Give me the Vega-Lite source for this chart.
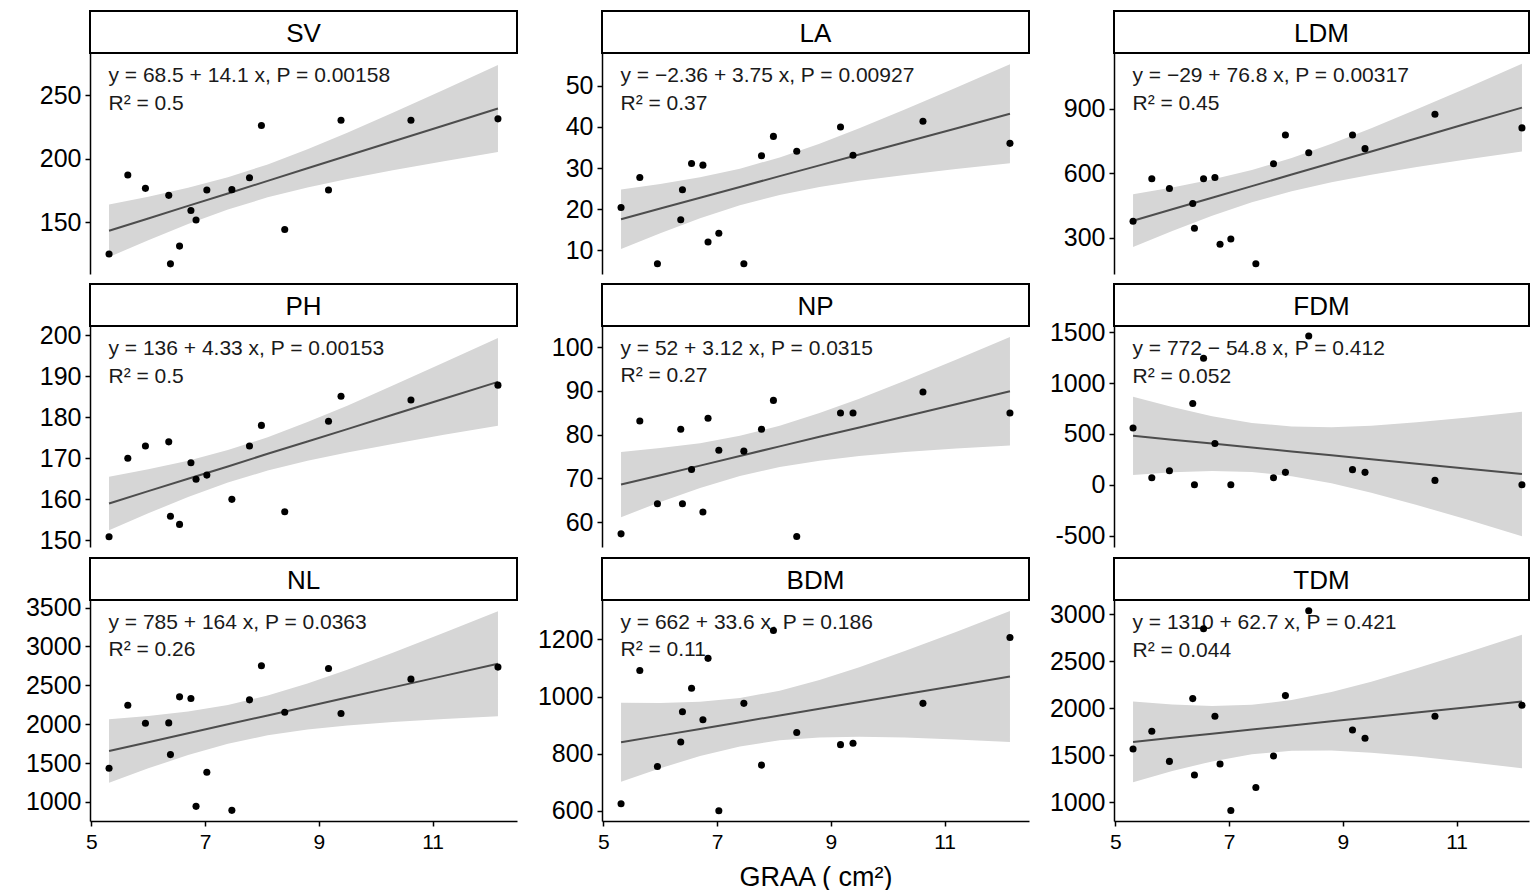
{
  "$schema": "https://vega.github.io/schema/vega-lite/v6.json",
  "background": "white",
  "padding": {"left": 25, "top": 10, "right": 0, "bottom": 0},
  "config": {
    "font": "Liberation Sans",
    "view": {"stroke": null},
    "axis": {"grid": false, "domainColor": "black", "domainWidth": 1.5, "tickColor": "black", "tickWidth": 1.5, "tickSize": 5, "labelColor": "black", "labelPadding": 4, "labelFlush": false, "labelFont": "Liberation Sans", "titleFont": "Liberation Sans"},
    "axisY": {"labelFontSize": 25},
    "axisX": {"labelFontSize": 21, "labelPadding": 5, "titleFontSize": 27, "titleFontWeight": "normal", "titleColor": "black", "titlePadding": 12},
    "area": {"color": "#d6d6d6", "opacity": 1},
    "line": {"color": "#4d4d4d", "strokeWidth": 2},
    "circle": {"size": 50, "color": "black", "opacity": 1}
  },
  "datasets": {
    "labels": [
      {"var": "SV", "label": "y = 68.5 + 14.1 x, P = 0.00158\nR² = 0.5"},
      {"var": "LA", "label": "y = −2.36 + 3.75 x, P = 0.00927\nR² = 0.37"},
      {"var": "LDM", "label": "y = −29 + 76.8 x, P = 0.00317\nR² = 0.45"},
      {"var": "PH", "label": "y = 136 + 4.33 x, P = 0.00153\nR² = 0.5"},
      {"var": "NP", "label": "y = 52 + 3.12 x, P = 0.0315\nR² = 0.27"},
      {"var": "FDM", "label": "y = 772 − 54.8 x, P = 0.412\nR² = 0.052"},
      {"var": "NL", "label": "y = 785 + 164 x, P = 0.0363\nR² = 0.26"},
      {"var": "BDM", "label": "y = 662 + 33.6 x, P = 0.186\nR² = 0.11"},
      {"var": "TDM", "label": "y = 1310 + 62.7 x, P = 0.421\nR² = 0.044"}
    ],
    "points": [
      {"var": "SV", "x": 5.31, "y": 125}, {"var": "SV", "x": 5.64, "y": 187.4}, {"var": "SV", "x": 5.95, "y": 176.8}, {"var": "SV", "x": 6.36, "y": 171.3}, {"var": "SV", "x": 6.39, "y": 117.3}, {"var": "SV", "x": 6.55, "y": 131.3}, {"var": "SV", "x": 6.75, "y": 159.4}, {"var": "SV", "x": 6.84, "y": 151.8}, {"var": "SV", "x": 7.03, "y": 175.5}, {"var": "SV", "x": 7.47, "y": 175.8}, {"var": "SV", "x": 7.78, "y": 185.2}, {"var": "SV", "x": 7.99, "y": 226.3}, {"var": "SV", "x": 8.4, "y": 144.4}, {"var": "SV", "x": 9.17, "y": 175.5}, {"var": "SV", "x": 9.39, "y": 230.5}, {"var": "SV", "x": 10.62, "y": 230.5}, {"var": "SV", "x": 12.15, "y": 231.6},
      {"var": "LA", "x": 5.31, "y": 20.4}, {"var": "LA", "x": 5.64, "y": 27.7}, {"var": "LA", "x": 5.95, "y": 6.7}, {"var": "LA", "x": 6.36, "y": 17.4}, {"var": "LA", "x": 6.39, "y": 24.7}, {"var": "LA", "x": 6.55, "y": 31.1}, {"var": "LA", "x": 6.75, "y": 30.7}, {"var": "LA", "x": 6.84, "y": 12.0}, {"var": "LA", "x": 7.03, "y": 14.1}, {"var": "LA", "x": 7.47, "y": 6.7}, {"var": "LA", "x": 7.78, "y": 33.0}, {"var": "LA", "x": 7.99, "y": 37.7}, {"var": "LA", "x": 8.4, "y": 34.1}, {"var": "LA", "x": 9.17, "y": 40.0}, {"var": "LA", "x": 9.39, "y": 33.1}, {"var": "LA", "x": 10.62, "y": 41.4}, {"var": "LA", "x": 12.15, "y": 36.0},
      {"var": "LDM", "x": 5.31, "y": 376}, {"var": "LDM", "x": 5.64, "y": 573.6}, {"var": "LDM", "x": 5.95, "y": 528.5}, {"var": "LDM", "x": 6.36, "y": 458.5}, {"var": "LDM", "x": 6.39, "y": 343.5}, {"var": "LDM", "x": 6.55, "y": 573.6}, {"var": "LDM", "x": 6.75, "y": 579.8}, {"var": "LDM", "x": 6.84, "y": 268.9}, {"var": "LDM", "x": 7.03, "y": 293.8}, {"var": "LDM", "x": 7.47, "y": 178.7}, {"var": "LDM", "x": 7.78, "y": 643.5}, {"var": "LDM", "x": 7.99, "y": 777.2}, {"var": "LDM", "x": 8.4, "y": 694.8}, {"var": "LDM", "x": 9.17, "y": 777.2}, {"var": "LDM", "x": 9.39, "y": 713.5}, {"var": "LDM", "x": 10.62, "y": 873.6}, {"var": "LDM", "x": 12.15, "y": 809.9},
      {"var": "PH", "x": 5.31, "y": 150.9}, {"var": "PH", "x": 5.64, "y": 170.0}, {"var": "PH", "x": 5.95, "y": 173.0}, {"var": "PH", "x": 6.36, "y": 174.0}, {"var": "PH", "x": 6.39, "y": 155.9}, {"var": "PH", "x": 6.55, "y": 153.9}, {"var": "PH", "x": 6.75, "y": 168.9}, {"var": "PH", "x": 6.84, "y": 164.9}, {"var": "PH", "x": 7.03, "y": 165.9}, {"var": "PH", "x": 7.47, "y": 160.0}, {"var": "PH", "x": 7.78, "y": 173.0}, {"var": "PH", "x": 7.99, "y": 178.0}, {"var": "PH", "x": 8.4, "y": 157.0}, {"var": "PH", "x": 9.17, "y": 179.0}, {"var": "PH", "x": 9.39, "y": 185.1}, {"var": "PH", "x": 10.62, "y": 184.2}, {"var": "PH", "x": 12.15, "y": 187.8},
      {"var": "NP", "x": 5.31, "y": 57.3}, {"var": "NP", "x": 5.64, "y": 83.1}, {"var": "NP", "x": 5.95, "y": 64.2}, {"var": "NP", "x": 6.36, "y": 81.2}, {"var": "NP", "x": 6.39, "y": 64.2}, {"var": "NP", "x": 6.55, "y": 72.0}, {"var": "NP", "x": 6.75, "y": 62.3}, {"var": "NP", "x": 6.84, "y": 83.7}, {"var": "NP", "x": 7.03, "y": 76.4}, {"var": "NP", "x": 7.47, "y": 76.2}, {"var": "NP", "x": 7.78, "y": 81.2}, {"var": "NP", "x": 7.99, "y": 87.8}, {"var": "NP", "x": 8.4, "y": 56.7}, {"var": "NP", "x": 9.17, "y": 84.9}, {"var": "NP", "x": 9.39, "y": 84.9}, {"var": "NP", "x": 10.62, "y": 89.7}, {"var": "NP", "x": 12.15, "y": 84.9},
      {"var": "FDM", "x": 5.31, "y": 557.8}, {"var": "FDM", "x": 5.64, "y": 69.3}, {"var": "FDM", "x": 5.95, "y": 138.6}, {"var": "FDM", "x": 6.36, "y": 798.7}, {"var": "FDM", "x": 6.39, "y": 0}, {"var": "FDM", "x": 6.55, "y": 1244}, {"var": "FDM", "x": 6.75, "y": 406}, {"var": "FDM", "x": 7.03, "y": 0}, {"var": "FDM", "x": 7.78, "y": 69.3}, {"var": "FDM", "x": 7.99, "y": 122.1}, {"var": "FDM", "x": 8.4, "y": 1462}, {"var": "FDM", "x": 9.17, "y": 148.5}, {"var": "FDM", "x": 9.39, "y": 122.1}, {"var": "FDM", "x": 10.62, "y": 42.9}, {"var": "FDM", "x": 12.15, "y": 0},
      {"var": "NL", "x": 5.31, "y": 1433}, {"var": "NL", "x": 5.64, "y": 2244.8}, {"var": "NL", "x": 5.95, "y": 2012.9}, {"var": "NL", "x": 6.36, "y": 2017.2}, {"var": "NL", "x": 6.39, "y": 1609}, {"var": "NL", "x": 6.55, "y": 2352.2}, {"var": "NL", "x": 6.75, "y": 2330.8}, {"var": "NL", "x": 6.84, "y": 943.3}, {"var": "NL", "x": 7.03, "y": 1381.4}, {"var": "NL", "x": 7.47, "y": 891.8}, {"var": "NL", "x": 7.78, "y": 2313.6}, {"var": "NL", "x": 7.99, "y": 2751.7}, {"var": "NL", "x": 8.4, "y": 2154.6}, {"var": "NL", "x": 9.17, "y": 2717.4}, {"var": "NL", "x": 9.39, "y": 2137.5}, {"var": "NL", "x": 10.62, "y": 2579.9}, {"var": "NL", "x": 12.15, "y": 2734.5},
      {"var": "BDM", "x": 5.31, "y": 625.5}, {"var": "BDM", "x": 5.64, "y": 1091.6}, {"var": "BDM", "x": 5.95, "y": 755.8}, {"var": "BDM", "x": 6.36, "y": 841.5}, {"var": "BDM", "x": 6.39, "y": 947.2}, {"var": "BDM", "x": 6.55, "y": 1029.4}, {"var": "BDM", "x": 6.75, "y": 919.0}, {"var": "BDM", "x": 6.84, "y": 1133.9}, {"var": "BDM", "x": 7.03, "y": 600.8}, {"var": "BDM", "x": 7.47, "y": 976.5}, {"var": "BDM", "x": 7.78, "y": 760.5}, {"var": "BDM", "x": 7.99, "y": 1231.3}, {"var": "BDM", "x": 8.4, "y": 874.4}, {"var": "BDM", "x": 9.17, "y": 832.1}, {"var": "BDM", "x": 9.39, "y": 836.8}, {"var": "BDM", "x": 10.62, "y": 976.5}, {"var": "BDM", "x": 12.15, "y": 1206.6},
      {"var": "TDM", "x": 5.31, "y": 1567.4}, {"var": "TDM", "x": 5.64, "y": 1755.3}, {"var": "TDM", "x": 5.95, "y": 1436.2}, {"var": "TDM", "x": 6.36, "y": 2102.8}, {"var": "TDM", "x": 6.39, "y": 1290.8}, {"var": "TDM", "x": 6.55, "y": 2844}, {"var": "TDM", "x": 6.75, "y": 1914.9}, {"var": "TDM", "x": 6.84, "y": 1407.8}, {"var": "TDM", "x": 7.03, "y": 914.9}, {"var": "TDM", "x": 7.47, "y": 1159.6}, {"var": "TDM", "x": 7.78, "y": 1492.9}, {"var": "TDM", "x": 7.99, "y": 2134.8}, {"var": "TDM", "x": 8.4, "y": 3035.5}, {"var": "TDM", "x": 9.17, "y": 1769.5}, {"var": "TDM", "x": 9.39, "y": 1680.9}, {"var": "TDM", "x": 10.62, "y": 1914.9}, {"var": "TDM", "x": 12.15, "y": 2031.9}
    ],
    "bands": [
      {"var": "SV", "x": 5.31, "lo": 122.7, "fit": 143.4, "hi": 164.1}, {"var": "SV", "x": 6.0, "lo": 136.0, "fit": 153.1, "hi": 170.2}, {"var": "SV", "x": 6.7, "lo": 148.8, "fit": 163.0, "hi": 177.2}, {"var": "SV", "x": 7.4, "lo": 160.1, "fit": 172.8, "hi": 185.5}, {"var": "SV", "x": 8.1, "lo": 169.7, "fit": 182.7, "hi": 195.7}, {"var": "SV", "x": 8.8, "lo": 177.5, "fit": 192.6, "hi": 207.6}, {"var": "SV", "x": 9.5, "lo": 184.2, "fit": 202.5, "hi": 220.7}, {"var": "SV", "x": 10.3, "lo": 191.1, "fit": 213.7, "hi": 236.4}, {"var": "SV", "x": 11.2, "lo": 198.2, "fit": 226.4, "hi": 254.6}, {"var": "SV", "x": 12.15, "lo": 205.5, "fit": 239.8, "hi": 274.1},
      {"var": "LA", "x": 5.31, "lo": 10.3, "fit": 17.55, "hi": 24.8}, {"var": "LA", "x": 6.0, "lo": 14.15, "fit": 20.14, "hi": 26.13}, {"var": "LA", "x": 6.7, "lo": 17.78, "fit": 22.77, "hi": 27.76}, {"var": "LA", "x": 7.4, "lo": 20.94, "fit": 25.39, "hi": 29.84}, {"var": "LA", "x": 8.1, "lo": 23.46, "fit": 28.02, "hi": 32.58}, {"var": "LA", "x": 8.8, "lo": 25.36, "fit": 30.64, "hi": 35.92}, {"var": "LA", "x": 9.5, "lo": 26.88, "fit": 33.27, "hi": 39.66}, {"var": "LA", "x": 10.3, "lo": 28.32, "fit": 36.27, "hi": 44.22}, {"var": "LA", "x": 11.2, "lo": 29.76, "fit": 39.64, "hi": 49.52}, {"var": "LA", "x": 12.15, "lo": 31.16, "fit": 43.2, "hi": 55.24},
      {"var": "LDM", "x": 5.31, "lo": 256.0, "fit": 378.8, "hi": 501.6}, {"var": "LDM", "x": 6.0, "lo": 330.5, "fit": 431.8, "hi": 533.1}, {"var": "LDM", "x": 6.7, "lo": 401.3, "fit": 485.6, "hi": 569.9}, {"var": "LDM", "x": 7.4, "lo": 464.0, "fit": 539.3, "hi": 614.6}, {"var": "LDM", "x": 8.1, "lo": 516.0, "fit": 593.1, "hi": 670.2}, {"var": "LDM", "x": 8.8, "lo": 557.6, "fit": 646.8, "hi": 736.0}, {"var": "LDM", "x": 9.5, "lo": 592.5, "fit": 700.6, "hi": 808.7}, {"var": "LDM", "x": 10.3, "lo": 627.7, "fit": 762.0, "hi": 896.4}, {"var": "LDM", "x": 11.2, "lo": 664.1, "fit": 831.2, "hi": 998.2}, {"var": "LDM", "x": 12.15, "lo": 700.6, "fit": 904.1, "hi": 1107.6},
      {"var": "PH", "x": 5.31, "lo": 152.5, "fit": 159.0, "hi": 165.5}, {"var": "PH", "x": 6.0, "lo": 156.6, "fit": 162.0, "hi": 167.3}, {"var": "PH", "x": 6.7, "lo": 160.6, "fit": 165.0, "hi": 169.4}, {"var": "PH", "x": 7.4, "lo": 164.1, "fit": 168.0, "hi": 172.0}, {"var": "PH", "x": 8.1, "lo": 167.0, "fit": 171.1, "hi": 175.1}, {"var": "PH", "x": 8.8, "lo": 169.4, "fit": 174.1, "hi": 178.8}, {"var": "PH", "x": 9.5, "lo": 171.4, "fit": 177.1, "hi": 182.8}, {"var": "PH", "x": 10.3, "lo": 173.5, "fit": 180.6, "hi": 187.7}, {"var": "PH", "x": 11.2, "lo": 175.7, "fit": 184.5, "hi": 193.3}, {"var": "PH", "x": 12.15, "lo": 177.9, "fit": 188.6, "hi": 199.3},
      {"var": "NP", "x": 5.31, "lo": 61.1, "fit": 68.6, "hi": 76.0}, {"var": "NP", "x": 6.0, "lo": 64.6, "fit": 70.7, "hi": 76.9}, {"var": "NP", "x": 6.7, "lo": 67.8, "fit": 72.9, "hi": 78.0}, {"var": "NP", "x": 7.4, "lo": 70.5, "fit": 75.1, "hi": 79.7}, {"var": "NP", "x": 8.1, "lo": 72.6, "fit": 77.3, "hi": 82.0}, {"var": "NP", "x": 8.8, "lo": 74.0, "fit": 79.5, "hi": 84.9}, {"var": "NP", "x": 9.5, "lo": 75.1, "fit": 81.6, "hi": 88.2}, {"var": "NP", "x": 10.3, "lo": 76.0, "fit": 84.1, "hi": 92.3}, {"var": "NP", "x": 11.2, "lo": 76.8, "fit": 86.9, "hi": 97.1}, {"var": "NP", "x": 12.15, "lo": 77.5, "fit": 89.9, "hi": 102.3},
      {"var": "FDM", "x": 5.31, "lo": 95.9, "fit": 481.0, "hi": 866.1}, {"var": "FDM", "x": 6.0, "lo": 122.1, "fit": 443.2, "hi": 764.3}, {"var": "FDM", "x": 6.7, "lo": 135.0, "fit": 404.8, "hi": 674.6}, {"var": "FDM", "x": 7.4, "lo": 125.2, "fit": 366.5, "hi": 607.8}, {"var": "FDM", "x": 8.1, "lo": 84.4, "fit": 328.1, "hi": 571.8}, {"var": "FDM", "x": 8.8, "lo": 13.7, "fit": 289.8, "hi": 565.9}, {"var": "FDM", "x": 9.5, "lo": -78.5, "fit": 251.4, "hi": 581.3}, {"var": "FDM", "x": 10.3, "lo": -198.9, "fit": 207.6, "hi": 614.1}, {"var": "FDM", "x": 11.2, "lo": -345.1, "fit": 158.2, "hi": 661.5}, {"var": "FDM", "x": 12.15, "lo": -505.7, "fit": 106.2, "hi": 718.1},
      {"var": "NL", "x": 5.31, "lo": 1247.7, "fit": 1655.8, "hi": 2064.0}, {"var": "NL", "x": 6.0, "lo": 1432.2, "fit": 1769.0, "hi": 2105.8}, {"var": "NL", "x": 6.7, "lo": 1603.6, "fit": 1883.8, "hi": 2164.0}, {"var": "NL", "x": 7.4, "lo": 1748.4, "fit": 1998.6, "hi": 2248.8}, {"var": "NL", "x": 8.1, "lo": 1857.0, "fit": 2113.4, "hi": 2369.8}, {"var": "NL", "x": 8.8, "lo": 1931.7, "fit": 2228.2, "hi": 2524.7}, {"var": "NL", "x": 9.5, "lo": 1983.7, "fit": 2343.0, "hi": 2702.3}, {"var": "NL", "x": 10.3, "lo": 2027.5, "fit": 2474.2, "hi": 2920.9}, {"var": "NL", "x": 11.2, "lo": 2066.4, "fit": 2621.8, "hi": 3177.2}, {"var": "NL", "x": 12.15, "lo": 2101.2, "fit": 2777.6, "hi": 3454.0},
      {"var": "BDM", "x": 5.31, "lo": 702.3, "fit": 840.4, "hi": 978.5}, {"var": "BDM", "x": 6.0, "lo": 749.6, "fit": 863.6, "hi": 977.6}, {"var": "BDM", "x": 6.7, "lo": 792.3, "fit": 887.1, "hi": 981.9}, {"var": "BDM", "x": 7.4, "lo": 826.0, "fit": 910.6, "hi": 995.3}, {"var": "BDM", "x": 8.1, "lo": 847.4, "fit": 934.2, "hi": 1020.9}, {"var": "BDM", "x": 8.8, "lo": 857.4, "fit": 957.7, "hi": 1058.0}, {"var": "BDM", "x": 9.5, "lo": 859.7, "fit": 981.2, "hi": 1102.8}, {"var": "BDM", "x": 10.3, "lo": 857.0, "fit": 1008.1, "hi": 1159.2}, {"var": "BDM", "x": 11.2, "lo": 850.5, "fit": 1038.3, "hi": 1226.2}, {"var": "BDM", "x": 12.15, "lo": 841.4, "fit": 1070.2, "hi": 1299.1},
      {"var": "TDM", "x": 5.31, "lo": 1214.8, "fit": 1642.9, "hi": 2071.0}, {"var": "TDM", "x": 6.0, "lo": 1332.8, "fit": 1686.2, "hi": 2039.6}, {"var": "TDM", "x": 6.7, "lo": 1436.1, "fit": 1730.1, "hi": 2024.1}, {"var": "TDM", "x": 7.4, "lo": 1511.5, "fit": 1774.0, "hi": 2036.5}, {"var": "TDM", "x": 8.1, "lo": 1548.9, "fit": 1817.9, "hi": 2086.9}, {"var": "TDM", "x": 8.8, "lo": 1550.8, "fit": 1861.8, "hi": 2172.8}, {"var": "TDM", "x": 9.5, "lo": 1528.7, "fit": 1905.7, "hi": 2282.6}, {"var": "TDM", "x": 10.3, "lo": 1487.2, "fit": 1955.8, "hi": 2424.4}, {"var": "TDM", "x": 11.2, "lo": 1429.6, "fit": 2012.2, "hi": 2594.9}, {"var": "TDM", "x": 12.15, "lo": 1362.2, "fit": 2071.8, "hi": 2781.4}
    ]
  },
  "vconcat": [
    {
      "concat": [
        {"width": 427, "height": 42, "data": {"name": "labels"}, "transform": [{"filter": "datum.var === 'SV'"}], "mark": {"type": "text", "fontSize": 26, "color": "black", "align": "center", "baseline": "middle", "dy": 2}, "encoding": {"text": {"field": "var", "type": "nominal"}}, "view": {"stroke": "black", "strokeWidth": 2, "fill": "white"}},
        {"width": 427, "height": 42, "data": {"name": "labels"}, "transform": [{"filter": "datum.var === 'LA'"}], "mark": {"type": "text", "fontSize": 26, "color": "black", "align": "center", "baseline": "middle", "dy": 2}, "encoding": {"text": {"field": "var", "type": "nominal"}}, "view": {"stroke": "black", "strokeWidth": 2, "fill": "white"}},
        {"width": 415, "height": 42, "data": {"name": "labels"}, "transform": [{"filter": "datum.var === 'LDM'"}], "mark": {"type": "text", "fontSize": 26, "color": "black", "align": "center", "baseline": "middle", "dy": 2}, "encoding": {"text": {"field": "var", "type": "nominal"}}, "view": {"stroke": "black", "strokeWidth": 2, "fill": "white"}},
        {"width": 427, "height": 221, "layer": [
          {"data": {"name": "bands"}, "transform": [{"filter": "datum.var === 'SV'"}], "mark": "area", "encoding": {"x": {"field": "x", "type": "quantitative", "scale": {"domain": [4.975, 12.485], "nice": false, "zero": false}, "axis": {"title": null, "domain": false, "labels": false, "tickOpacity": 0, "tickSize": 6, "values": [5]}}, "y": {"field": "lo", "type": "quantitative", "scale": {"domain": [109.3, 283.5], "nice": false, "zero": false}, "axis": {"title": null, "values": [150, 200, 250]}}, "y2": {"field": "hi"}}},
          {"data": {"name": "bands"}, "transform": [{"filter": "datum.var === 'SV'"}], "mark": "line", "encoding": {"x": {"field": "x", "type": "quantitative", "axis": {"title": null}}, "y": {"field": "fit", "type": "quantitative", "axis": {"title": null}}}},
          {"data": {"name": "labels"}, "transform": [{"filter": "datum.var === 'SV'"}], "mark": {"type": "text", "align": "left", "baseline": "alphabetic", "fontSize": 21, "lineHeight": 27.5, "lineBreak": "\n", "color": "#1a1a1a"}, "encoding": {"x": {"datum": 5.3, "type": "quantitative"}, "y": {"datum": 260.6, "type": "quantitative"}, "text": {"field": "label", "type": "nominal"}}},
          {"data": {"name": "points"}, "transform": [{"filter": "datum.var === 'SV'"}], "mark": "circle", "encoding": {"x": {"field": "x", "type": "quantitative", "axis": {"title": null}}, "y": {"field": "y", "type": "quantitative", "axis": {"title": null}}}}
        ]},
        {"width": 427, "height": 221, "layer": [
          {"data": {"name": "bands"}, "transform": [{"filter": "datum.var === 'LA'"}], "mark": "area", "encoding": {"x": {"field": "x", "type": "quantitative", "scale": {"domain": [4.975, 12.485], "nice": false, "zero": false}, "axis": {"title": null, "domain": false, "labels": false, "tickOpacity": 0, "tickSize": 6, "values": [5]}}, "y": {"field": "lo", "type": "quantitative", "scale": {"domain": [4.2, 58.0], "nice": false, "zero": false}, "axis": {"title": null, "values": [10, 20, 30, 40, 50]}}, "y2": {"field": "hi"}}},
          {"data": {"name": "bands"}, "transform": [{"filter": "datum.var === 'LA'"}], "mark": "line", "encoding": {"x": {"field": "x", "type": "quantitative", "axis": {"title": null}}, "y": {"field": "fit", "type": "quantitative", "axis": {"title": null}}}},
          {"data": {"name": "labels"}, "transform": [{"filter": "datum.var === 'LA'"}], "mark": {"type": "text", "align": "left", "baseline": "alphabetic", "fontSize": 21, "lineHeight": 27.5, "lineBreak": "\n", "color": "#1a1a1a"}, "encoding": {"x": {"datum": 5.3, "type": "quantitative"}, "y": {"datum": 50.9, "type": "quantitative"}, "text": {"field": "label", "type": "nominal"}}},
          {"data": {"name": "points"}, "transform": [{"filter": "datum.var === 'LA'"}], "mark": "circle", "encoding": {"x": {"field": "x", "type": "quantitative", "axis": {"title": null}}, "y": {"field": "y", "type": "quantitative", "axis": {"title": null}}}}
        ]},
        {"width": 415, "height": 221, "layer": [
          {"data": {"name": "bands"}, "transform": [{"filter": "datum.var === 'LDM'"}], "mark": "area", "encoding": {"x": {"field": "x", "type": "quantitative", "scale": {"domain": [4.975, 12.274], "nice": false, "zero": false}, "axis": {"title": null, "domain": false, "labels": false, "tickOpacity": 0, "tickSize": 6, "values": [5]}}, "y": {"field": "lo", "type": "quantitative", "scale": {"domain": [131, 1158], "nice": false, "zero": false}, "axis": {"title": null, "values": [300, 600, 900]}}, "y2": {"field": "hi"}}},
          {"data": {"name": "bands"}, "transform": [{"filter": "datum.var === 'LDM'"}], "mark": "line", "encoding": {"x": {"field": "x", "type": "quantitative", "axis": {"title": null}}, "y": {"field": "fit", "type": "quantitative", "axis": {"title": null}}}},
          {"data": {"name": "labels"}, "transform": [{"filter": "datum.var === 'LDM'"}], "mark": {"type": "text", "align": "left", "baseline": "alphabetic", "fontSize": 21, "lineHeight": 27.5, "lineBreak": "\n", "color": "#1a1a1a"}, "encoding": {"x": {"datum": 5.3, "type": "quantitative"}, "y": {"datum": 1023, "type": "quantitative"}, "text": {"field": "label", "type": "nominal"}}},
          {"data": {"name": "points"}, "transform": [{"filter": "datum.var === 'LDM'"}], "mark": "circle", "encoding": {"x": {"field": "x", "type": "quantitative", "axis": {"title": null}}, "y": {"field": "y", "type": "quantitative", "axis": {"title": null}}}}
        ]}
      ],
      "columns": 3, "bounds": "flush", "spacing": {"row": 0, "column": 85}
    },
    {
      "concat": [
        {"width": 427, "height": 42, "data": {"name": "labels"}, "transform": [{"filter": "datum.var === 'PH'"}], "mark": {"type": "text", "fontSize": 26, "color": "black", "align": "center", "baseline": "middle", "dy": 2}, "encoding": {"text": {"field": "var", "type": "nominal"}}, "view": {"stroke": "black", "strokeWidth": 2, "fill": "white"}},
        {"width": 427, "height": 42, "data": {"name": "labels"}, "transform": [{"filter": "datum.var === 'NP'"}], "mark": {"type": "text", "fontSize": 26, "color": "black", "align": "center", "baseline": "middle", "dy": 2}, "encoding": {"text": {"field": "var", "type": "nominal"}}, "view": {"stroke": "black", "strokeWidth": 2, "fill": "white"}},
        {"width": 415, "height": 42, "data": {"name": "labels"}, "transform": [{"filter": "datum.var === 'FDM'"}], "mark": {"type": "text", "fontSize": 26, "color": "black", "align": "center", "baseline": "middle", "dy": 2}, "encoding": {"text": {"field": "var", "type": "nominal"}}, "view": {"stroke": "black", "strokeWidth": 2, "fill": "white"}},
        {"width": 427, "height": 221, "layer": [
          {"data": {"name": "bands"}, "transform": [{"filter": "datum.var === 'PH'"}], "mark": "area", "encoding": {"x": {"field": "x", "type": "quantitative", "scale": {"domain": [4.975, 12.485], "nice": false, "zero": false}, "axis": {"title": null, "domain": false, "labels": false, "tickOpacity": 0, "tickSize": 6, "values": [5]}}, "y": {"field": "lo", "type": "quantitative", "scale": {"domain": [148.4, 202.2], "nice": false, "zero": false}, "axis": {"title": null, "values": [150, 160, 170, 180, 190, 200]}}, "y2": {"field": "hi"}}},
          {"data": {"name": "bands"}, "transform": [{"filter": "datum.var === 'PH'"}], "mark": "line", "encoding": {"x": {"field": "x", "type": "quantitative", "axis": {"title": null}}, "y": {"field": "fit", "type": "quantitative", "axis": {"title": null}}}},
          {"data": {"name": "labels"}, "transform": [{"filter": "datum.var === 'PH'"}], "mark": {"type": "text", "align": "left", "baseline": "alphabetic", "fontSize": 21, "lineHeight": 27.5, "lineBreak": "\n", "color": "#1a1a1a"}, "encoding": {"x": {"datum": 5.3, "type": "quantitative"}, "y": {"datum": 195.1, "type": "quantitative"}, "text": {"field": "label", "type": "nominal"}}},
          {"data": {"name": "points"}, "transform": [{"filter": "datum.var === 'PH'"}], "mark": "circle", "encoding": {"x": {"field": "x", "type": "quantitative", "axis": {"title": null}}, "y": {"field": "y", "type": "quantitative", "axis": {"title": null}}}}
        ]},
        {"width": 427, "height": 221, "layer": [
          {"data": {"name": "bands"}, "transform": [{"filter": "datum.var === 'NP'"}], "mark": "area", "encoding": {"x": {"field": "x", "type": "quantitative", "scale": {"domain": [4.975, 12.485], "nice": false, "zero": false}, "axis": {"title": null, "domain": false, "labels": false, "tickOpacity": 0, "tickSize": 6, "values": [5]}}, "y": {"field": "lo", "type": "quantitative", "scale": {"domain": [54.3, 104.8], "nice": false, "zero": false}, "axis": {"title": null, "values": [60, 70, 80, 90, 100]}}, "y2": {"field": "hi"}}},
          {"data": {"name": "bands"}, "transform": [{"filter": "datum.var === 'NP'"}], "mark": "line", "encoding": {"x": {"field": "x", "type": "quantitative", "axis": {"title": null}}, "y": {"field": "fit", "type": "quantitative", "axis": {"title": null}}}},
          {"data": {"name": "labels"}, "transform": [{"filter": "datum.var === 'NP'"}], "mark": {"type": "text", "align": "left", "baseline": "alphabetic", "fontSize": 21, "lineHeight": 27.5, "lineBreak": "\n", "color": "#1a1a1a"}, "encoding": {"x": {"datum": 5.3, "type": "quantitative"}, "y": {"datum": 98.2, "type": "quantitative"}, "text": {"field": "label", "type": "nominal"}}},
          {"data": {"name": "points"}, "transform": [{"filter": "datum.var === 'NP'"}], "mark": "circle", "encoding": {"x": {"field": "x", "type": "quantitative", "axis": {"title": null}}, "y": {"field": "y", "type": "quantitative", "axis": {"title": null}}}}
        ]},
        {"width": 415, "height": 221, "layer": [
          {"data": {"name": "bands"}, "transform": [{"filter": "datum.var === 'FDM'"}], "mark": "area", "encoding": {"x": {"field": "x", "type": "quantitative", "scale": {"domain": [4.975, 12.274], "nice": false, "zero": false}, "axis": {"title": null, "domain": false, "labels": false, "tickOpacity": 0, "tickSize": 6, "values": [5]}}, "y": {"field": "lo", "type": "quantitative", "scale": {"domain": [-612, 1561], "nice": false, "zero": false}, "axis": {"title": null, "values": [-500, 0, 500, 1000, 1500], "format": "d", "labelExpr": "replace(datum.label, '−', '-')"}}, "y2": {"field": "hi"}}},
          {"data": {"name": "bands"}, "transform": [{"filter": "datum.var === 'FDM'"}], "mark": "line", "encoding": {"x": {"field": "x", "type": "quantitative", "axis": {"title": null}}, "y": {"field": "fit", "type": "quantitative", "axis": {"title": null}}}},
          {"data": {"name": "labels"}, "transform": [{"filter": "datum.var === 'FDM'"}], "mark": {"type": "text", "align": "left", "baseline": "alphabetic", "fontSize": 21, "lineHeight": 27.5, "lineBreak": "\n", "color": "#1a1a1a"}, "encoding": {"x": {"datum": 5.3, "type": "quantitative"}, "y": {"datum": 1275.8, "type": "quantitative"}, "text": {"field": "label", "type": "nominal"}}},
          {"data": {"name": "points"}, "transform": [{"filter": "datum.var === 'FDM'"}], "mark": "circle", "encoding": {"x": {"field": "x", "type": "quantitative", "axis": {"title": null}}, "y": {"field": "y", "type": "quantitative", "axis": {"title": null}}}}
        ]}
      ],
      "columns": 3, "bounds": "flush", "spacing": {"row": 0, "column": 85}
    },
    {
      "concat": [
        {"width": 427, "height": 42, "data": {"name": "labels"}, "transform": [{"filter": "datum.var === 'NL'"}], "mark": {"type": "text", "fontSize": 26, "color": "black", "align": "center", "baseline": "middle", "dy": 2}, "encoding": {"text": {"field": "var", "type": "nominal"}}, "view": {"stroke": "black", "strokeWidth": 2, "fill": "white"}},
        {"width": 427, "height": 42, "data": {"name": "labels"}, "transform": [{"filter": "datum.var === 'BDM'"}], "mark": {"type": "text", "fontSize": 26, "color": "black", "align": "center", "baseline": "middle", "dy": 2}, "encoding": {"text": {"field": "var", "type": "nominal"}}, "view": {"stroke": "black", "strokeWidth": 2, "fill": "white"}},
        {"width": 415, "height": 42, "data": {"name": "labels"}, "transform": [{"filter": "datum.var === 'TDM'"}], "mark": {"type": "text", "fontSize": 26, "color": "black", "align": "center", "baseline": "middle", "dy": 2}, "encoding": {"text": {"field": "var", "type": "nominal"}}, "view": {"stroke": "black", "strokeWidth": 2, "fill": "white"}},
        {"width": 427, "height": 221, "layer": [
          {"data": {"name": "bands"}, "transform": [{"filter": "datum.var === 'NL'"}], "mark": "area", "encoding": {"x": {"field": "x", "type": "quantitative", "scale": {"domain": [4.975, 12.485], "nice": false, "zero": false}, "axis": {"title": null, "values": [5, 7, 9, 11], "format": "d"}}, "y": {"field": "lo", "type": "quantitative", "scale": {"domain": [755, 3598], "nice": false, "zero": false}, "axis": {"title": null, "values": [1000, 1500, 2000, 2500, 3000, 3500], "format": "d"}}, "y2": {"field": "hi"}}},
          {"data": {"name": "bands"}, "transform": [{"filter": "datum.var === 'NL'"}], "mark": "line", "encoding": {"x": {"field": "x", "type": "quantitative", "axis": {"title": null}}, "y": {"field": "fit", "type": "quantitative", "axis": {"title": null}}}},
          {"data": {"name": "labels"}, "transform": [{"filter": "datum.var === 'NL'"}], "mark": {"type": "text", "align": "left", "baseline": "alphabetic", "fontSize": 21, "lineHeight": 27.5, "lineBreak": "\n", "color": "#1a1a1a"}, "encoding": {"x": {"datum": 5.3, "type": "quantitative"}, "y": {"datum": 3225, "type": "quantitative"}, "text": {"field": "label", "type": "nominal"}}},
          {"data": {"name": "points"}, "transform": [{"filter": "datum.var === 'NL'"}], "mark": "circle", "encoding": {"x": {"field": "x", "type": "quantitative", "axis": {"title": null}}, "y": {"field": "y", "type": "quantitative", "axis": {"title": null}}}}
        ]},
        {"width": 427, "height": 221, "layer": [
          {"data": {"name": "bands"}, "transform": [{"filter": "datum.var === 'BDM'"}], "mark": "area", "encoding": {"x": {"field": "x", "type": "quantitative", "scale": {"domain": [4.975, 12.485], "nice": false, "zero": false}, "axis": {"title": "GRAA ( cm²)", "values": [5, 7, 9, 11], "format": "d"}}, "y": {"field": "lo", "type": "quantitative", "scale": {"domain": [565, 1338], "nice": false, "zero": false}, "axis": {"title": null, "values": [600, 800, 1000, 1200], "format": "d"}}, "y2": {"field": "hi"}}},
          {"data": {"name": "bands"}, "transform": [{"filter": "datum.var === 'BDM'"}], "mark": "line", "encoding": {"x": {"field": "x", "type": "quantitative"}, "y": {"field": "fit", "type": "quantitative", "axis": {"title": null}}}},
          {"data": {"name": "labels"}, "transform": [{"filter": "datum.var === 'BDM'"}], "mark": {"type": "text", "align": "left", "baseline": "alphabetic", "fontSize": 21, "lineHeight": 27.5, "lineBreak": "\n", "color": "#1a1a1a"}, "encoding": {"x": {"datum": 5.3, "type": "quantitative"}, "y": {"datum": 1238.3, "type": "quantitative"}, "text": {"field": "label", "type": "nominal"}}},
          {"data": {"name": "points"}, "transform": [{"filter": "datum.var === 'BDM'"}], "mark": "circle", "encoding": {"x": {"field": "x", "type": "quantitative"}, "y": {"field": "y", "type": "quantitative", "axis": {"title": null}}}}
        ]},
        {"width": 415, "height": 221, "layer": [
          {"data": {"name": "bands"}, "transform": [{"filter": "datum.var === 'TDM'"}], "mark": "area", "encoding": {"x": {"field": "x", "type": "quantitative", "scale": {"domain": [4.975, 12.274], "nice": false, "zero": false}, "axis": {"title": null, "values": [5, 7, 9, 11], "format": "d"}}, "y": {"field": "lo", "type": "quantitative", "scale": {"domain": [803, 3150], "nice": false, "zero": false}, "axis": {"title": null, "values": [1000, 1500, 2000, 2500, 3000], "format": "d"}}, "y2": {"field": "hi"}}},
          {"data": {"name": "bands"}, "transform": [{"filter": "datum.var === 'TDM'"}], "mark": "line", "encoding": {"x": {"field": "x", "type": "quantitative", "axis": {"title": null}}, "y": {"field": "fit", "type": "quantitative", "axis": {"title": null}}}},
          {"data": {"name": "labels"}, "transform": [{"filter": "datum.var === 'TDM'"}], "mark": {"type": "text", "align": "left", "baseline": "alphabetic", "fontSize": 21, "lineHeight": 27.5, "lineBreak": "\n", "color": "#1a1a1a"}, "encoding": {"x": {"datum": 5.3, "type": "quantitative"}, "y": {"datum": 2842, "type": "quantitative"}, "text": {"field": "label", "type": "nominal"}}},
          {"data": {"name": "points"}, "transform": [{"filter": "datum.var === 'TDM'"}], "mark": "circle", "encoding": {"x": {"field": "x", "type": "quantitative", "axis": {"title": null}}, "y": {"field": "y", "type": "quantitative", "axis": {"title": null}}}}
        ]}
      ],
      "columns": 3, "bounds": "flush", "spacing": {"row": 0, "column": 85}
    }
  ],
  "spacing": 3
}
